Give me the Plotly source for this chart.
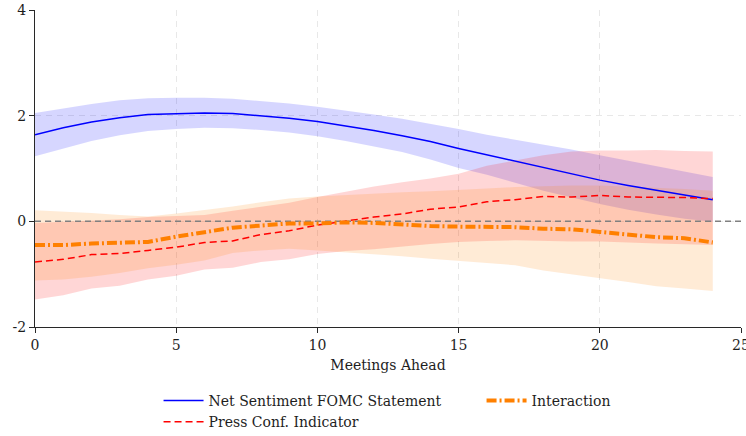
import plotly.graph_objects as go

# Horizon (FOMC meetings ahead)
meetings = list(range(25))

# Net sentiment of the FOMC statement: point estimate and confidence band
sent = [1.64, 1.77, 1.88, 1.96, 2.02, 2.04, 2.05, 2.04, 2.00, 1.95, 1.89, 1.81, 1.72,
        1.62, 1.51, 1.38, 1.26, 1.13, 1.01, 0.89, 0.78, 0.68, 0.59, 0.50, 0.41]
sent_hi = [2.05, 2.14, 2.22, 2.29, 2.33, 2.34, 2.34, 2.32, 2.28, 2.23, 2.17, 2.10, 2.02,
           1.94, 1.85, 1.75, 1.64, 1.55, 1.45, 1.36, 1.25, 1.15, 1.04, 0.94, 0.84]
sent_lo = [1.23, 1.38, 1.52, 1.63, 1.71, 1.75, 1.77, 1.76, 1.73, 1.68, 1.61, 1.52, 1.42,
           1.31, 1.17, 1.01, 0.88, 0.73, 0.58, 0.45, 0.33, 0.22, 0.13, 0.05, -0.01]

# Press conference indicator
press = [-0.77, -0.72, -0.63, -0.61, -0.55, -0.49, -0.40, -0.37, -0.25, -0.18, -0.07, 0.01, 0.08,
         0.14, 0.23, 0.27, 0.37, 0.41, 0.47, 0.46, 0.49, 0.46, 0.46, 0.45, 0.43]
press_hi = [-0.03, -0.01, 0.02, 0.04, 0.08, 0.10, 0.12, 0.20, 0.27, 0.35, 0.46, 0.56, 0.66,
            0.74, 0.81, 0.90, 1.05, 1.15, 1.25, 1.32, 1.34, 1.34, 1.35, 1.33, 1.32]
press_lo = [-1.48, -1.40, -1.27, -1.22, -1.10, -1.03, -0.91, -0.88, -0.77, -0.72, -0.62, -0.56, -0.53,
            -0.48, -0.43, -0.39, -0.37, -0.36, -0.37, -0.38, -0.38, -0.40, -0.42, -0.44, -0.45]

# Interaction term
inter = [-0.45, -0.45, -0.42, -0.41, -0.39, -0.29, -0.20, -0.12, -0.08, -0.04, -0.04, -0.02, -0.03,
         -0.06, -0.09, -0.10, -0.11, -0.11, -0.14, -0.15, -0.20, -0.25, -0.30, -0.32, -0.40]
inter_hi = [0.21, 0.19, 0.16, 0.12, 0.09, 0.15, 0.21, 0.28, 0.36, 0.43, 0.47, 0.50, 0.52,
            0.55, 0.57, 0.59, 0.62, 0.65, 0.67, 0.68, 0.68, 0.66, 0.63, 0.61, 0.58]
inter_lo = [-1.12, -1.10, -1.05, -0.98, -0.89, -0.82, -0.74, -0.60, -0.55, -0.52, -0.55, -0.59, -0.62,
            -0.66, -0.71, -0.76, -0.79, -0.83, -0.93, -1.00, -1.08, -1.15, -1.23, -1.27, -1.32]

x_ticks = [0, 5, 10, 15, 20, 25]
y_ticks = [-2, 0, 2, 4]

FONT = "DejaVu Serif"
TEXT = "rgb(30,30,30)"
BLUE = "rgb(0,0,255)"
RED = "rgb(255,0,0)"
ORANGE = "rgb(255,128,0)"

fig = go.Figure()


def band(hi, lo, rgba):
    fig.add_trace(go.Scatter(
        x=meetings + meetings[::-1], y=hi + lo[::-1],
        fill="toself", fillcolor=rgba, line=dict(width=0),
        mode="lines", hoverinfo="skip", showlegend=False))


band(sent_hi, sent_lo, "rgba(0,0,255,0.16)")
band(press_hi, press_lo, "rgba(255,0,0,0.16)")
band(inter_hi, inter_lo, "rgba(255,128,0,0.16)")

# reference line at zero
fig.add_trace(go.Scatter(x=[0, 25], y=[0, 0], mode="lines",
                         line=dict(color="rgb(128,128,128)", width=1.5, dash="6px,4px"),
                         hoverinfo="skip", showlegend=False))

fig.add_trace(go.Scatter(x=meetings, y=sent, mode="lines", name="Net Sentiment FOMC Statement",
                         line=dict(color=BLUE, width=1.5), legendrank=1))
fig.add_trace(go.Scatter(x=meetings, y=press, mode="lines", name="Press Conf. Indicator",
                         line=dict(color=RED, width=1.5, dash="7px,4px"), legendrank=3))
fig.add_trace(go.Scatter(x=meetings, y=inter, mode="lines", name="Interaction",
                         line=dict(color=ORANGE, width=4, dash="10px,3px,2px,3px"), legendrank=2))

axis_common = dict(
    showline=True, linecolor="rgb(40,40,40)", linewidth=1.3,
    ticks="outside", ticklen=5, tickwidth=1.3, tickcolor="rgb(40,40,40)",
    showgrid=True, gridcolor="rgb(232,232,232)", gridwidth=1.3, griddash="6px,5px",
    zeroline=False, mirror=False, ticklabeloverflow="allow",
    tickfont=dict(family=FONT, size=14, color=TEXT),
)

fig.update_xaxes(range=[0, 25], tickvals=x_ticks, ticktext=[str(v) for v in x_ticks],
                 title=dict(text="Meetings Ahead", font=dict(family=FONT, size=14, color=TEXT),
                            standoff=8),
                 **axis_common)
fig.update_yaxes(range=[-2, 4], tickvals=y_ticks, ticktext=[str(v) for v in y_ticks], **axis_common)

fig.update_layout(
    width=746, height=436,
    margin=dict(l=35, r=5, t=10, b=109, autoexpand=False),
    paper_bgcolor="white", plot_bgcolor="white",
    font=dict(family=FONT, size=14, color=TEXT),
    showlegend=True,
    legend=dict(orientation="h", x=0.175, xanchor="left", y=-0.183, yanchor="top",
                entrywidth=268, entrywidthmode="pixels", traceorder="normal",
                font=dict(family=FONT, size=14, color=TEXT),
                bgcolor="rgba(0,0,0,0)", itemwidth=40, tracegroupgap=0),
)

fig.write_html("out.html")
